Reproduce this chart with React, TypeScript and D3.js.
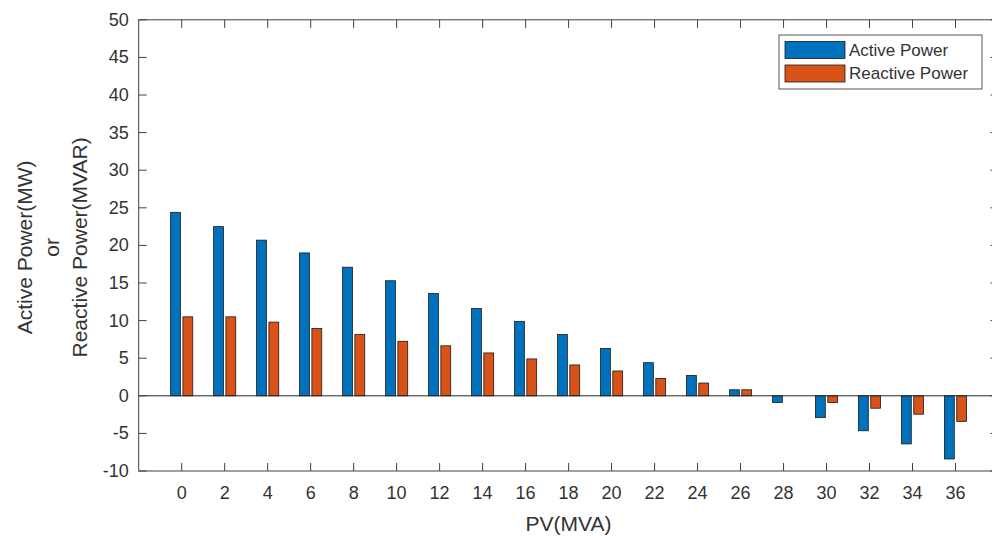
import React from "react";
import * as d3 from "d3";

// PV rating (MVA) for each group of bars
const pvRatings: number[] = [0, 2, 4, 6, 8, 10, 12, 14, 16, 18, 20, 22, 24, 26, 28, 30, 32, 34, 36];

// Active power flow (MW)
const activePower: number[] = [
  24.4, 22.5, 20.7, 19.0, 17.1, 15.3, 13.6, 11.6, 9.9, 8.15, 6.3, 4.4, 2.7, 0.8, -0.9, -2.9, -4.65, -6.4, -8.4,
];

// Reactive power flow (MVAR)
const reactivePower: number[] = [
  10.5, 10.5, 9.8, 8.95, 8.15, 7.25, 6.65, 5.7, 4.9, 4.1, 3.3, 2.3, 1.7, 0.8, 0, -0.9, -1.65, -2.45, -3.4,
];

const yTicks: number[] = [-10, -5, 0, 5, 10, 15, 20, 25, 30, 35, 40, 45, 50];

const seriesNames: string[] = ["Active Power", "Reactive Power"];
const seriesColors: string[] = ["#0072BD", "#D95319"];

const W = 992;
const H = 536;
const plot = { left: 138.7, right: 998.5, top: 19.8, bottom: 471 };
const FONT = "'Liberation Sans', Arial, Helvetica, sans-serif";
const AXIS = "#404040";
const TEXT = "#333333";
const TICK = 8;

// Grouped-bar geometry in category units (two series)
const barOffset = 0.143;
const barWidth = 0.229;

export default function App() {
  const x = d3.scaleLinear().domain([0, pvRatings.length + 1]).range([plot.left, plot.right]);
  const y = d3.scaleLinear().domain([-10, 50]).range([plot.bottom, plot.top]);

  const series = [activePower, reactivePower];

  return (
    <svg
      width={W}
      height={H}
      viewBox={`0 0 ${W} ${H}`}
      style={{ position: "absolute", left: 0, top: 0, background: "#fff", fontFamily: FONT }}
    >
      <rect x={0} y={0} width={W} height={H} fill="#fff" />

      {/* bars */}
      {series.map((vals, s) =>
        vals.map((v, i) => {
          if (v === 0) return null;
          const cx = x(i + 1) + (s === 0 ? -barOffset : barOffset) * (x(1) - x(0));
          const w = barWidth * (x(1) - x(0));
          const y0 = y(0);
          const y1 = y(v);
          return (
            <rect
              key={`b${s}-${i}`}
              x={cx - w / 2}
              y={Math.min(y0, y1)}
              width={w}
              height={Math.abs(y1 - y0)}
              fill={seriesColors[s]}
              stroke="#1a1a1a"
              strokeWidth={0.8}
            />
          );
        })
      )}

      {/* baseline at zero */}
      <line x1={plot.left} x2={plot.right} y1={y(0)} y2={y(0)} stroke="#262626" strokeWidth={1} />

      {/* axes box */}
      <rect
        x={plot.left}
        y={plot.top}
        width={plot.right - plot.left}
        height={plot.bottom - plot.top}
        fill="none"
        stroke={AXIS}
        strokeWidth={1}
      />

      {/* y ticks (left & right) */}
      {yTicks.map((t) => (
        <g key={`yt${t}`}>
          <line x1={plot.left} x2={plot.left + TICK} y1={y(t)} y2={y(t)} stroke={AXIS} strokeWidth={1} />
          <line x1={plot.right} x2={plot.right - TICK} y1={y(t)} y2={y(t)} stroke={AXIS} strokeWidth={1} />
          <text
            x={plot.left - 10}
            y={y(t)}
            textAnchor="end"
            dominantBaseline="central"
            fontSize={18}
            fill={TEXT}
          >
            {t}
          </text>
        </g>
      ))}

      {/* x ticks (bottom & top) */}
      {pvRatings.map((p, i) => (
        <g key={`xt${p}`}>
          <line x1={x(i + 1)} x2={x(i + 1)} y1={plot.bottom} y2={plot.bottom - TICK} stroke={AXIS} strokeWidth={1} />
          <line x1={x(i + 1)} x2={x(i + 1)} y1={plot.top} y2={plot.top + TICK} stroke={AXIS} strokeWidth={1} />
          <text x={x(i + 1)} y={499} textAnchor="middle" fontSize={18} fill={TEXT}>
            {p}
          </text>
        </g>
      ))}

      {/* x label */}
      <text x={(plot.left + plot.right) / 2} y={531} textAnchor="middle" fontSize={21} fill={TEXT}>
        PV(MVA)
      </text>

      {/* y label (three lines) */}
      <g transform={`translate(0, ${(plot.top + plot.bottom) / 2 + 2}) rotate(-90)`}>
        <text x={0} y={32} textAnchor="middle" fontSize={21} fill={TEXT}>
          Active Power(MW)
        </text>
        <text x={0} y={59} textAnchor="middle" fontSize={21} fill={TEXT}>
          or
        </text>
        <text x={0} y={87} textAnchor="middle" fontSize={21} fill={TEXT}>
          Reactive Power(MVAR)
        </text>
      </g>

      {/* legend */}
      <g>
        <rect x={779} y={35} width={203} height={54} fill="#fff" stroke="#555" strokeWidth={1} />
        {seriesNames.map((name, k) => (
          <g key={name}>
            <rect
              x={785}
              y={41.5 + k * 23.5}
              width={60}
              height={17}
              fill={seriesColors[k]}
              stroke="#1a1a1a"
              strokeWidth={0.8}
            />
            <text x={849} y={50 + k * 23.5} dominantBaseline="central" fontSize={17} fill={TEXT}>
              {name}
            </text>
          </g>
        ))}
      </g>
    </svg>
  );
}
